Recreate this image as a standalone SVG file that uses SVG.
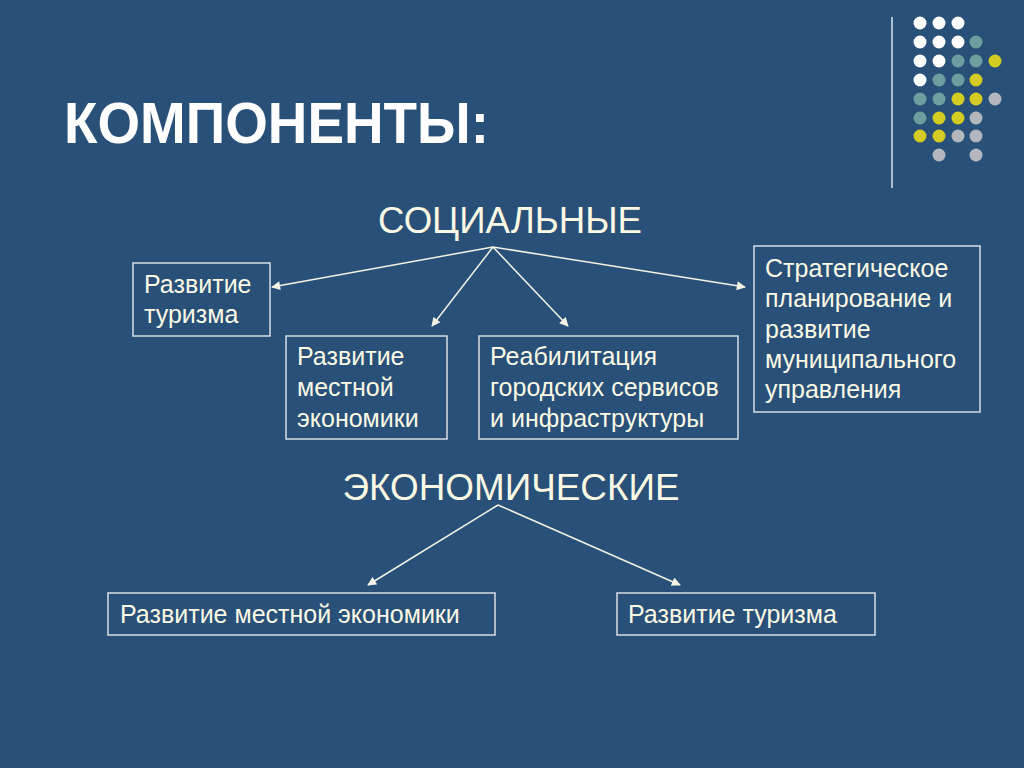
<svg xmlns="http://www.w3.org/2000/svg" width="1024" height="768" viewBox="0 0 1024 768">
<defs>
<style>
.bg{fill:#285078}
.box{fill:none;stroke:#d8dde4;stroke-width:1.5}
.t{font-family:"Liberation Sans",Arial,sans-serif;font-size:25px;fill:#fbf9e4}
.h{font-family:"Liberation Sans",Arial,sans-serif;font-size:37px;fill:#fbf9e4;text-anchor:middle}
.title{font-family:"Liberation Sans",Arial,sans-serif;font-size:58px;font-weight:bold;fill:#ffffff}
.c{stroke:#f4f2e4;stroke-width:1.5;fill:none;marker-end:url(#ah)}
.w{fill:#ffffff}.tl{fill:#6e9fa0}.y{fill:#d4cc22}.g{fill:#b5b7be}
</style>
<marker id="ah" viewBox="0 0 10 10" refX="9" refY="5" markerWidth="10" markerHeight="9" markerUnits="userSpaceOnUse" orient="auto">
<path d="M0,0 L10,5 L0,10 z" fill="#f4f2e4"/>
</marker>
</defs>
<rect class="bg" x="0" y="0" width="1024" height="768"/>
<g id="decor">
<line x1="892" y1="17" x2="892" y2="188" stroke="#d8e4ee" stroke-width="1.5"/>
<circle class="w" cx="920" cy="23" r="6.5"/><circle class="w" cx="939" cy="23" r="6.5"/><circle class="w" cx="958" cy="23" r="6.5"/>
<circle class="w" cx="920" cy="42" r="6.5"/><circle class="w" cx="939" cy="42" r="6.5"/><circle class="w" cx="958" cy="42" r="6.5"/><circle class="tl" cx="976" cy="42" r="6.5"/>
<circle class="w" cx="920" cy="61" r="6.5"/><circle class="w" cx="939" cy="61" r="6.5"/><circle class="tl" cx="958" cy="61" r="6.5"/><circle class="tl" cx="976" cy="61" r="6.5"/><circle class="y" cx="995" cy="61" r="6.5"/>
<circle class="w" cx="920" cy="80" r="6.5"/><circle class="tl" cx="939" cy="80" r="6.5"/><circle class="tl" cx="958" cy="80" r="6.5"/><circle class="y" cx="976" cy="80" r="6.5"/>
<circle class="tl" cx="920" cy="99" r="6.5"/><circle class="tl" cx="939" cy="99" r="6.5"/><circle class="y" cx="958" cy="99" r="6.5"/><circle class="y" cx="976" cy="99" r="6.5"/><circle class="g" cx="995" cy="99" r="6.5"/>
<circle class="tl" cx="920" cy="118" r="6.5"/><circle class="y" cx="939" cy="118" r="6.5"/><circle class="y" cx="958" cy="118" r="6.5"/><circle class="g" cx="976" cy="118" r="6.5"/>
<circle class="y" cx="920" cy="136" r="6.5"/><circle class="y" cx="939" cy="136" r="6.5"/><circle class="g" cx="958" cy="136" r="6.5"/><circle class="g" cx="976" cy="136" r="6.5"/>
<circle class="g" cx="939" cy="155" r="6.5"/><circle class="g" cx="976" cy="155" r="6.5"/>
</g>
<g id="title"><text class="title" x="64" y="143" textLength="425" lengthAdjust="spacingAndGlyphs">КОМПОНЕНТЫ:</text></g>
<g id="social"><text class="h" x="510" y="233" textLength="264" lengthAdjust="spacingAndGlyphs">СОЦИАЛЬНЫЕ</text></g>
<g id="economic"><text class="h" x="511" y="500" textLength="337" lengthAdjust="spacingAndGlyphs">ЭКОНОМИЧЕСКИЕ</text></g>
<g id="connectors">
<line class="c" x1="493" y1="247" x2="272" y2="287"/>
<line class="c" x1="493" y1="247" x2="432" y2="326"/>
<line class="c" x1="493" y1="247" x2="568" y2="326"/>
<line class="c" x1="493" y1="247" x2="745" y2="287"/>
<line class="c" x1="498" y1="505" x2="368" y2="585"/>
<line class="c" x1="498" y1="505" x2="680" y2="585"/>
</g>
<g id="n-tourism1"><rect class="box" x="133" y="263" width="137" height="73"/>
<text class="t" x="144" y="293">Развитие</text><text class="t" x="144" y="323">туризма</text></g>
<g id="n-economy1"><rect class="box" x="286" y="336" width="161" height="103"/>
<text class="t" x="297" y="365">Развитие</text><text class="t" x="297" y="396">местной</text><text class="t" x="297" y="427">экономики</text></g>
<g id="n-rehab"><rect class="box" x="479" y="336" width="259" height="103"/>
<text class="t" x="490" y="365">Реабилитация</text><text class="t" x="490" y="396">городских сервисов</text><text class="t" x="490" y="427">и инфраструктуры</text></g>
<g id="n-strategy"><rect class="box" x="754" y="246" width="226" height="166"/>
<text class="t" x="765" y="277">Стратегическое</text><text class="t" x="765" y="307">планирование и</text><text class="t" x="765" y="338">развитие</text><text class="t" x="765" y="368">муниципального</text><text class="t" x="765" y="398">управления</text></g>
<g id="n-economy2"><rect class="box" x="108" y="593" width="387" height="42"/>
<text class="t" x="120" y="623">Развитие местной экономики</text></g>
<g id="n-tourism2"><rect class="box" x="617" y="593" width="258" height="42"/>
<text class="t" x="628" y="623">Развитие туризма</text></g>
</svg>
